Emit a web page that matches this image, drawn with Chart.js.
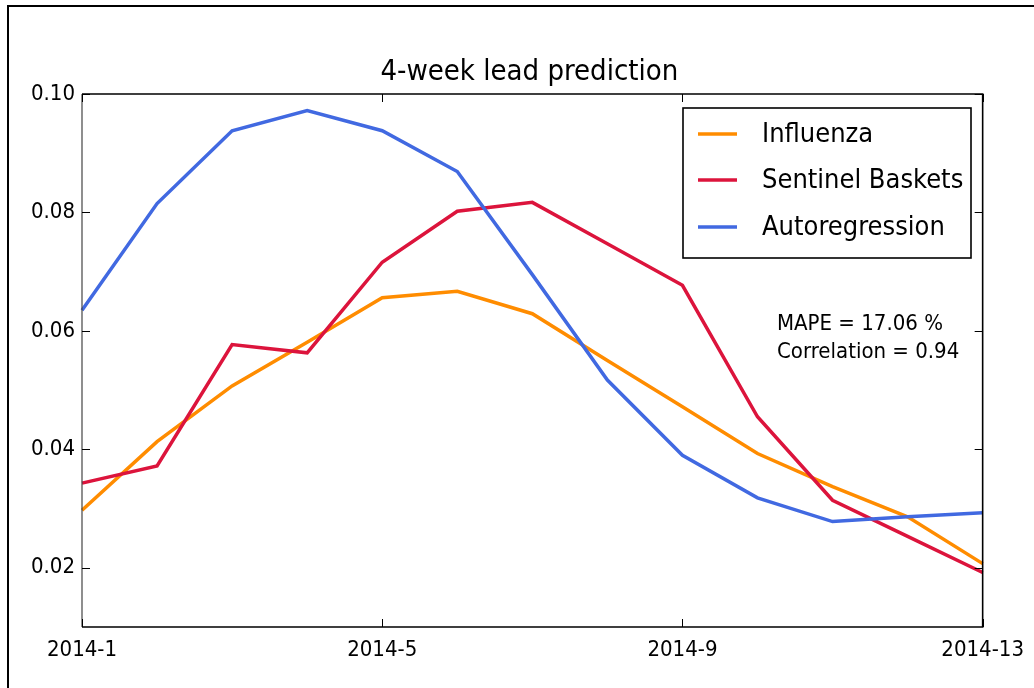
<!DOCTYPE html>
<html>
<head>
<meta charset="utf-8">
<script src="https://cdn.jsdelivr.net/npm/chart.js@4.4.1/dist/chart.umd.min.js"></script>
<style>
  html, body { margin: 0; padding: 0; background: #fff; }
  #wrap { position: relative; width: 1034px; height: 688px; }
</style>
</head>
<body>
<div id="wrap"><canvas id="c" width="1034" height="688"></canvas></div>
<script>
const weeks = ['2014-1','2014-2','2014-3','2014-4','2014-5','2014-6','2014-7','2014-8','2014-9','2014-10','2014-11','2014-12','2014-13'];
const shownWeeks = ['2014-1','2014-5','2014-9','2014-13'];
const influenza  = [0.0297, 0.0413, 0.0507, 0.0581, 0.0656, 0.0667, 0.0629, 0.0550, 0.0472, 0.0393, 0.0337, 0.0286, 0.0207];
const sentinel   = [0.0343, 0.0372, 0.0577, 0.0563, 0.0716, 0.0802, 0.0817, 0.0747, 0.0677, 0.0455, 0.0314, 0.0253, 0.0192];
const autoreg    = [0.0635, 0.0815, 0.0938, 0.0972, 0.0938, 0.0869, 0.0695, 0.0517, 0.0390, 0.0318, 0.0278, 0.0286, 0.0293];
const yTicks = [0.02, 0.04, 0.06, 0.08, 0.10];
const titleText = '4-week lead prediction';
const annotationLines = ['MAPE = 17.06 %', 'Correlation = 0.94'];

const FONT = "'DejaVu Sans Condensed', 'DejaVu Sans', sans-serif";

const framePlugin = {
  id: 'framePlugin',
  afterDatasetsDraw(chart) {
    const ctx = chart.ctx;
    const a = chart.chartArea;
    const xs = chart.scales.x, ys = chart.scales.y;
    ctx.save();
    // outer image frame (top and left edges)
    ctx.strokeStyle = '#000';
    ctx.lineWidth = 2;
    ctx.beginPath();
    ctx.moveTo(8, 688); ctx.lineTo(8, 6); ctx.lineTo(1034, 6);
    ctx.stroke();
    // title
    ctx.font = '29px ' + FONT;
    ctx.fillStyle = '#000';
    ctx.textAlign = 'center';
    ctx.textBaseline = 'middle';
    ctx.fillText(titleText, (a.left + a.right) / 2 - 3, 72);
    // axes box
    ctx.lineWidth = 1.6;
    ctx.strokeStyle = '#000';
    ctx.beginPath();
    ctx.moveTo(a.left, a.top); ctx.lineTo(a.right, a.top);
    ctx.lineTo(a.right, a.bottom); ctx.lineTo(a.left, a.bottom);
    ctx.stroke();
    ctx.strokeStyle = '#444';
    ctx.lineWidth = 1.2;
    ctx.beginPath();
    ctx.moveTo(a.left, a.top); ctx.lineTo(a.left, a.bottom);
    ctx.stroke();
    // inward ticks
    ctx.strokeStyle = '#000';
    ctx.lineWidth = 1;
    const L = 8;
    ctx.beginPath();
    shownWeeks.forEach(w => {
      const px = Math.round(xs.getPixelForValue(weeks.indexOf(w))) + 0.5;
      ctx.moveTo(px, a.bottom); ctx.lineTo(px, a.bottom - L);
      ctx.moveTo(px, a.top); ctx.lineTo(px, a.top + L);
    });
    yTicks.forEach(v => {
      const py = Math.round(ys.getPixelForValue(v)) + 0.5;
      ctx.moveTo(a.left, py); ctx.lineTo(a.left + L, py);
      ctx.moveTo(a.right, py); ctx.lineTo(a.right - L, py);
    });
    ctx.stroke();

    // legend box
    const lx = 683, ly = 108, lw = 288, lh = 150;
    ctx.fillStyle = '#fff';
    ctx.fillRect(lx, ly, lw, lh);
    ctx.lineWidth = 1.6;
    ctx.strokeStyle = '#000';
    ctx.strokeRect(lx, ly, lw, lh);
    const rows = [134, 180, 227];
    ctx.font = '27px ' + FONT;
    ctx.textBaseline = 'middle';
    ctx.textAlign = 'left';
    chart.data.datasets.forEach((ds, i) => {
      ctx.strokeStyle = ds.borderColor;
      ctx.lineWidth = 3.5;
      ctx.beginPath();
      ctx.moveTo(698, rows[i]); ctx.lineTo(737, rows[i]);
      ctx.stroke();
      ctx.fillStyle = '#000';
      ctx.fillText(ds.label, 762, rows[i] + 1);
    });

    // annotation
    ctx.font = '22px ' + FONT;
    ctx.fillStyle = '#000';
    ctx.fillText(annotationLines[0], 777, 324);
    ctx.fillText(annotationLines[1], 777, 352);
    ctx.restore();
  }
};

new Chart(document.getElementById('c'), {
  type: 'line',
  data: {
    labels: weeks,
    datasets: [
      { label: 'Influenza', data: influenza, borderColor: '#FF8C00', order: 3 },
      { label: 'Sentinel Baskets', data: sentinel, borderColor: '#DC143C', order: 2 },
      { label: 'Autoregression', data: autoreg, borderColor: '#4169E1', order: 1 }
    ]
  },
  options: {
    responsive: false,
    animation: false,
    devicePixelRatio: 1,
    layout: { padding: { left: 0, right: 51, top: 94, bottom: 0 } },
    elements: {
      line: { borderWidth: 3.5, tension: 0, fill: false, borderCapStyle: 'butt', borderJoinStyle: 'miter' },
      point: { radius: 0, hoverRadius: 0 }
    },
    plugins: {
      legend: { display: false },
      tooltip: { enabled: false },
      title: { display: false }
    },
    scales: {
      x: {
        type: 'category',
        offset: false,
        grid: { display: false, drawTicks: false },
        border: { display: false },
        afterFit(s) { s.height = 61; },
        ticks: {
          autoSkip: false,
          maxRotation: 0,
          padding: 10,
          color: '#000',
          font: { family: FONT, size: 22 },
          callback(v, i) { const w = weeks[i]; return shownWeeks.includes(w) ? w : ''; }
        }
      },
      y: {
        type: 'linear',
        min: 0.01,
        max: 0.10,
        grid: { display: false, drawTicks: false },
        border: { display: false },
        afterBuildTicks(s) { s.ticks = yTicks.map(v => ({ value: v })); },
        afterFit(s) { s.width = 82; },
        ticks: {
          padding: 7,
          color: '#000',
          font: { family: FONT, size: 22 },
          callback(v) { return v.toFixed(2); }
        }
      }
    }
  },
  plugins: [framePlugin]
});
</script>
</body>
</html>
